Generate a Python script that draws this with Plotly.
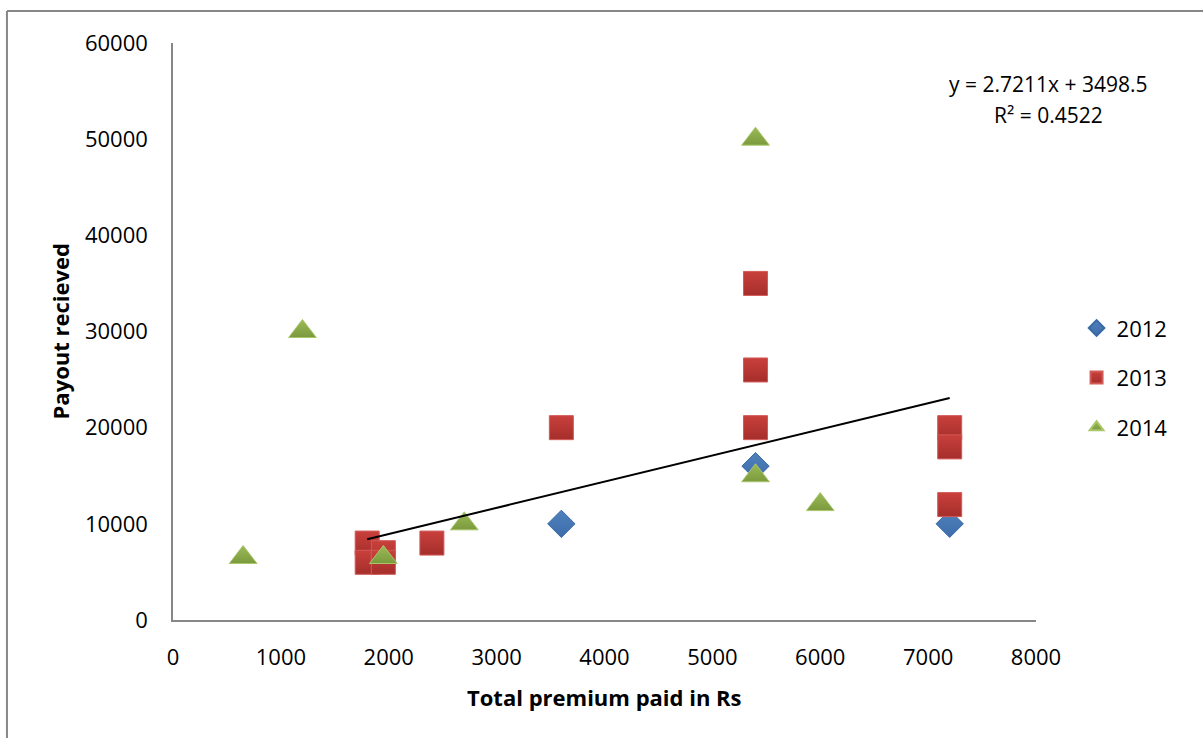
import plotly.graph_objects as go

# ---- data ----
x_2012 = [3600, 5400, 7200]
y_2012 = [10000, 16000, 10000]

x_2013 = [1800, 1800, 1950, 1950, 2400, 3600, 5400, 5400, 5400, 7200, 7200, 7200]
y_2013 = [8000, 6000, 7000, 6000, 8000, 20000, 35000, 26000, 20000, 20000, 18000, 12000]

x_2014 = [650, 1200, 1950, 2700, 5400, 5400, 6000]
y_2014 = [6500, 30000, 6500, 10000, 50000, 15000, 12000]

trend_slope = 2.7211
trend_intercept = 3498.5
trend_r2 = 0.4522

x_ticks = [0, 1000, 2000, 3000, 4000, 5000, 6000, 7000, 8000]
y_ticks = [0, 10000, 20000, 30000, 40000, 50000, 60000]

FONT = "Open Sans"

fig = go.Figure()

fig.add_trace(go.Scatter(
    x=x_2012, y=y_2012, mode="markers", name="2012", legendgroup="a",
    marker=dict(symbol="diamond", size=21, color="#4F81BD",
                line=dict(width=1, color="#3A6AA5"),
                gradient=dict(type="vertical", color="#3D6DAA")),
))
fig.add_trace(go.Scatter(
    x=x_2013, y=y_2013, mode="markers", name="2013", legendgroup="b",
    marker=dict(symbol="square", size=24, color="#C9403C",
                line=dict(width=1, color="#D25A57"),
                gradient=dict(type="vertical", color="#A52E2B")),
))
fig.add_trace(go.Scatter(
    x=x_2014, y=y_2014, mode="markers", name="2014", legendgroup="c",
    marker=dict(symbol="triangle-up", size=24, color="#9BBB59",
                line=dict(width=1, color="#A9C66B"),
                gradient=dict(type="vertical", color="#7A9A3C")),
))

# linear trendline (2013 series range)
tx = [min(x_2013), max(x_2013)]
ty = [trend_slope * v + trend_intercept for v in tx]
fig.add_trace(go.Scatter(
    x=tx, y=ty, mode="lines", showlegend=False, hoverinfo="skip",
    line=dict(color="black", width=2),
))

fig.update_layout(
    width=1203, height=738,
    margin=dict(l=173, r=167, t=43, b=118),
    paper_bgcolor="white", plot_bgcolor="white",
    font=dict(family=FONT, size=22, color="black"),
    showlegend=True,
    legend=dict(x=1.047, y=0.42, xanchor="left", yanchor="middle",
                font=dict(family=FONT, size=22), tracegroupgap=18,
                itemsizing="constant", bgcolor="rgba(0,0,0,0)"),
    xaxis=dict(range=[0, 8000], tickvals=x_ticks, ticktext=[str(v) for v in x_ticks],
               showgrid=False, zeroline=False, showline=True, linecolor="#878787",
               linewidth=1.5, ticks="", ticklabelstandoff=17,
               tickfont=dict(family=FONT, size=22)),
    yaxis=dict(range=[0, 60000], tickvals=y_ticks, ticktext=[str(v) for v in y_ticks],
               showgrid=False, zeroline=False, showline=True, linecolor="#878787",
               linewidth=1.5, ticks="", ticklabelstandoff=19,
               tickfont=dict(family=FONT, size=22)),
)

# axis titles
fig.add_annotation(text="<b>Total premium paid in Rs</b>", xref="paper", yref="paper",
                   x=0.5, y=-0.1334, xanchor="center", yanchor="middle", showarrow=False,
                   font=dict(family=FONT, size=22))
fig.add_annotation(text="<b>Payout recieved</b>", xref="paper", yref="paper",
                   x=-0.131, y=0.5, xanchor="center", yanchor="middle", showarrow=False,
                   textangle=-90, font=dict(family=FONT, size=22))

# trendline equation
fig.add_annotation(text=f"y = {trend_slope}x + {trend_intercept}",
                   xref="paper", yref="paper", x=1.014, y=0.929, xanchor="center",
                   yanchor="middle", showarrow=False, font=dict(family=FONT, size=21))
fig.add_annotation(text=f"R² = {trend_r2}",
                   xref="paper", yref="paper", x=1.014, y=0.875, xanchor="center",
                   yanchor="middle", showarrow=False, font=dict(family=FONT, size=21))

# outer chart border (top and left visible)
fig.add_shape(type="line", xref="paper", yref="paper", x0=-0.1924, x1=1.3,
              y0=1.0555, y1=1.0555, line=dict(color="#878787", width=2))
fig.add_shape(type="line", xref="paper", yref="paper", x0=-0.1924, x1=-0.1924,
              y0=1.0555, y1=-0.3, line=dict(color="#878787", width=2))

fig.write_html("out.html", config={"displayModeBar": False})

# remove the default page margin so the figure sits at the window origin
with open("out.html", "r", encoding="utf-8") as f:
    html = f.read()
html = html.replace("<body>", '<body style="margin:0;overflow:hidden">', 1)
with open("out.html", "w", encoding="utf-8") as f:
    f.write(html)
